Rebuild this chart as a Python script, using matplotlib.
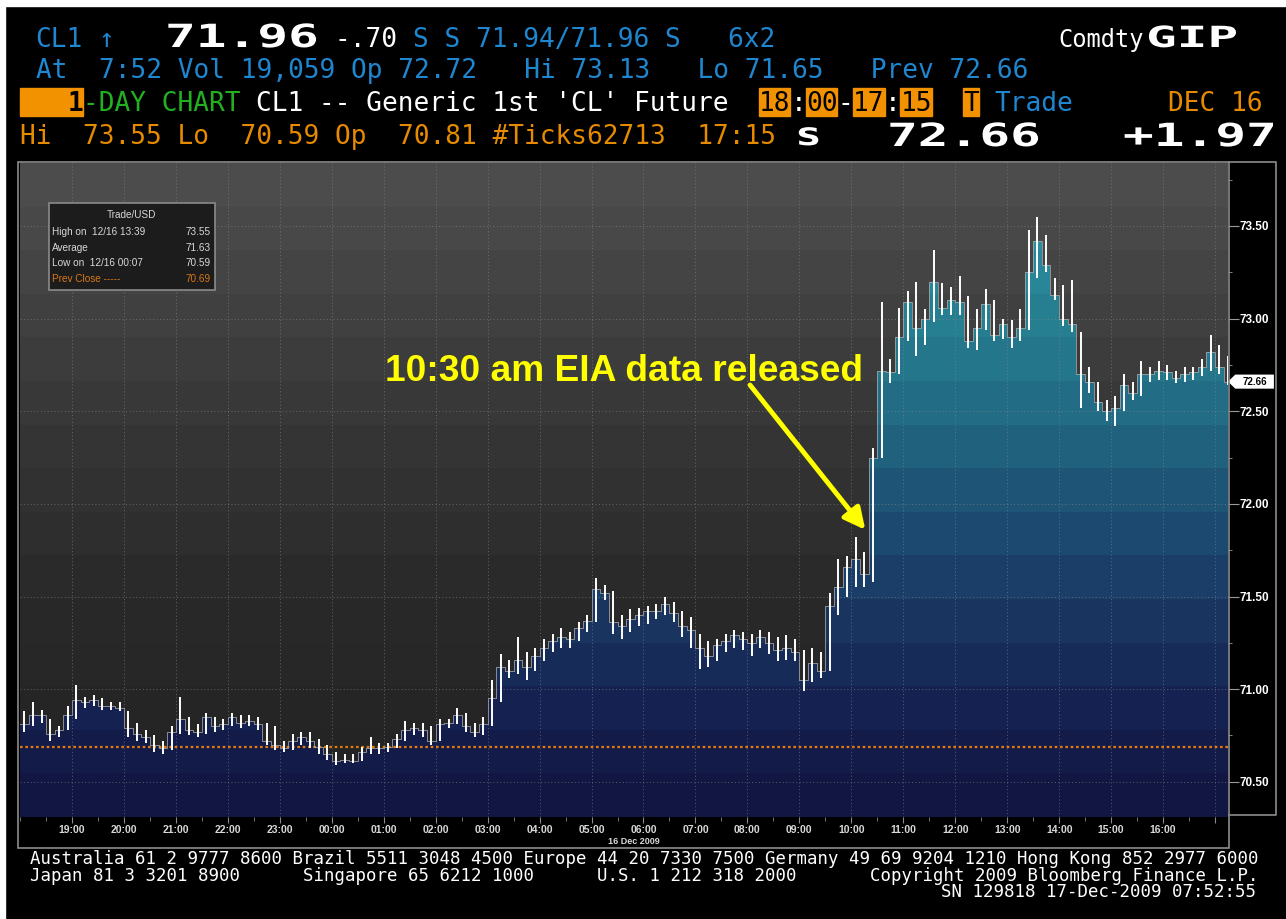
import numpy as np
import matplotlib
matplotlib.use("Agg")
import matplotlib.pyplot as plt
from matplotlib.patches import Rectangle, Polygon
from matplotlib.patheffects import AbstractPathEffect
from matplotlib.transforms import Affine2D
from matplotlib.colors import to_rgb
from matplotlib.ticker import MultipleLocator

# CL1 10-minute bars, session 18:00 (Dec 15) -> 17:15 (Dec 16)
close = [
    70.81, 70.86, 70.86, 70.76, 70.78, 70.86,   # 18:00
    70.94, 70.93, 70.94, 70.91, 70.91, 70.90,   # 19:00
    70.79, 70.76, 70.74, 70.70, 70.68, 70.77,   # 20:00
    70.84, 70.78, 70.77, 70.85, 70.80, 70.81,   # 21:00
    70.85, 70.82, 70.83, 70.81, 70.72, 70.70,   # 22:00
    70.68, 70.72, 70.74, 70.72, 70.69, 70.65,   # 23:00
    70.61, 70.62, 70.61, 70.66, 70.68, 70.68,   # 00:00
    70.69, 70.73, 70.78, 70.79, 70.78, 70.72,   # 01:00
    70.81, 70.82, 70.86, 70.80, 70.77, 70.81,   # 02:00
    70.95, 71.12, 71.10, 71.16, 71.12, 71.18,   # 03:00
    71.22, 71.26, 71.28, 71.27, 71.33, 71.37,   # 04:00
    71.54, 71.52, 71.36, 71.34, 71.38, 71.40,   # 05:00
    71.42, 71.42, 71.46, 71.41, 71.34, 71.32,   # 06:00
    71.22, 71.18, 71.24, 71.26, 71.29, 71.27,   # 07:00
    71.25, 71.28, 71.25, 71.21, 71.22, 71.20,   # 08:00
    71.05, 71.14, 71.10, 71.45, 71.55, 71.66,   # 09:00
    71.70, 71.62, 72.25, 72.72, 72.71, 72.90,   # 10:00
    73.09, 72.95, 73.00, 73.20, 73.06, 73.10,   # 11:00
    73.09, 72.88, 72.95, 73.08, 72.91, 72.97,   # 12:00
    72.90, 72.95, 73.25, 73.42, 73.29, 73.13,   # 13:00
    73.00, 72.97, 72.70, 72.66, 72.55, 72.50,   # 14:00
    72.52, 72.64, 72.60, 72.70, 72.70, 72.72,   # 15:00
    72.71, 72.68, 72.70, 72.71, 72.74, 72.82,   # 16:00
    72.74, 72.66,                               # 17:00
]
high = [
    70.88, 70.93, 70.89, 70.84, 70.80, 70.91,
    71.02, 70.96, 70.97, 70.95, 70.93, 70.93,
    70.88, 70.82, 70.78, 70.75, 70.72, 70.80,
    70.96, 70.85, 70.81, 70.87, 70.85, 70.84,
    70.87, 70.86, 70.86, 70.85, 70.82, 70.80,
    70.72, 70.76, 70.77, 70.77, 70.73, 70.70,
    70.66, 70.65, 70.65, 70.69, 70.74, 70.71,
    70.71, 70.76, 70.83, 70.82, 70.82, 70.80,
    70.84, 70.84, 70.90, 70.87, 70.82, 70.85,
    71.05, 71.19, 71.16, 71.28, 71.20, 71.22,
    71.27, 71.30, 71.33, 71.31, 71.36, 71.40,
    71.60, 71.56, 71.53, 71.40, 71.43, 71.44,
    71.45, 71.46, 71.50, 71.47, 71.42, 71.39,
    71.30, 71.26, 71.27, 71.30, 71.32, 71.31,
    71.30, 71.32, 71.31, 71.28, 71.29, 71.27,
    71.21, 71.22, 71.20, 71.52, 71.70, 71.72,
    71.82, 71.74, 72.30, 73.09, 72.78, 73.06,
    73.15, 73.20, 73.05, 73.37, 73.19, 73.17,
    73.23, 73.12, 73.05, 73.16, 73.10, 73.00,
    72.99, 73.05, 73.48, 73.55, 73.45, 73.22,
    73.18, 73.21, 72.93, 72.74, 72.66, 72.56,
    72.58, 72.70, 72.66, 72.77, 72.74, 72.77,
    72.75, 72.72, 72.74, 72.74, 72.78, 72.91,
    72.86, 72.80,
]
low = [
    70.77, 70.80, 70.82, 70.72, 70.74, 70.78,
    70.84, 70.90, 70.91, 70.89, 70.89, 70.88,
    70.74, 70.72, 70.71, 70.66, 70.65, 70.67,
    70.76, 70.75, 70.74, 70.76, 70.77, 70.78,
    70.80, 70.79, 70.80, 70.78, 70.70, 70.67,
    70.66, 70.67, 70.70, 70.68, 70.65, 70.62,
    70.59, 70.60, 70.60, 70.61, 70.65, 70.65,
    70.66, 70.68, 70.72, 70.75, 70.74, 70.70,
    70.72, 70.79, 70.81, 70.77, 70.74, 70.75,
    70.80, 70.93, 71.06, 71.08, 71.05, 71.10,
    71.15, 71.20, 71.22, 71.22, 71.26, 71.31,
    71.36, 71.48, 71.30, 71.27, 71.31, 71.34,
    71.35, 71.38, 71.40, 71.36, 71.28, 71.22,
    71.11, 71.12, 71.15, 71.20, 71.22, 71.21,
    71.18, 71.22, 71.19, 71.15, 71.16, 71.15,
    70.99, 71.04, 71.06, 71.10, 71.40, 71.50,
    71.55, 71.55, 71.58, 72.25, 72.65, 72.70,
    72.88, 72.80, 72.86, 72.98, 73.02, 73.02,
    73.02, 72.84, 72.83, 72.94, 72.88, 72.89,
    72.84, 72.88, 72.94, 73.22, 73.25, 73.10,
    72.96, 72.93, 72.52, 72.60, 72.50, 72.45,
    72.42, 72.50, 72.56, 72.58, 72.66, 72.67,
    72.67, 72.65, 72.66, 72.67, 72.69, 72.72,
    72.70, 72.64,
]
hour_labels = ["19:00", "20:00", "21:00", "22:00", "23:00", "00:00", "01:00", "02:00",
               "03:00", "04:00", "05:00", "06:00", "07:00", "08:00", "09:00", "10:00",
               "11:00", "12:00", "13:00", "14:00", "15:00", "16:00"]
price_ticks = [70.50, 71.00, 71.50, 72.00, 72.50, 73.00, 73.50]
prev_close = 70.69
last_price = 72.66
session_hours = 23.25
bars_per_hour = 6
legend_rows = [("High on  12/16 13:39", "73.55"), ("Average", "71.63"),
               ("Low on  12/16 00:07", "70.59"), ("Prev Close -----", "70.69")]

plt.rcParams['font.family'] = ['Liberation Sans', 'DejaVu Sans']
MONO = ['DejaVu Sans Mono', 'DejaVu Sans']
BLUE, GREEN, ORANGE, BOX = '#1f86d0', '#22b022', '#e68a00', '#f39200'

W, H = 1286, 919
fig = plt.figure(figsize=(W / 100, H / 100), dpi=100, facecolor='black')


class Widen(AbstractPathEffect):
    # stretch text horizontally around its left edge (display pixels)
    def __init__(self, sx, x0):
        super().__init__()
        self.t = Affine2D().translate(-x0, 0).scale(sx, 1.0).translate(x0, 0)

    def draw_path(self, renderer, gc, tpath, affine, rgbFace=None):
        renderer.draw_path(gc, tpath, affine + self.t, rgbFace)


def banded(anchors, n):
    fr = (np.arange(n) + 0.5) / n
    pos = [a[0] for a in anchors]
    cols = np.array([to_rgb(a[1]) for a in anchors])
    out = np.stack([np.interp(fr, pos, cols[:, k]) for k in range(3)], axis=1)
    return out[:, None, :]


# ---- price chart ----
ax = fig.add_axes([20 / W, (H - 817) / H, 1208 / W, 654 / H])
ymin, ymax = 70.31, 73.84
t = np.arange(len(close)) / bars_per_hour
x_edges = np.append(t, session_hours)
y_edges = np.append(close, close[-1])

bg = banded([(0, '#222222'), (0.35, '#2a2a2a'), (0.6, '#363636'), (0.8, '#424242'), (1, '#4e4e4e')], 15)
ax.imshow(bg, extent=[0, session_hours, ymin, ymax], origin='lower', aspect='auto', zorder=0)

poly = ax.fill_between(x_edges, y_edges, ymin, step='post', facecolor='none', edgecolor='none')
fill = banded([(0, '#10163f'), (0.12, '#141c4c'), (0.3, '#1a3460'), (0.45, '#1d4c72'),
               (0.6, '#216882'), (0.75, '#267e90'), (0.9, '#2a8e9f'), (1, '#2e98aa')], 15)
im = ax.imshow(fill, extent=[0, session_hours, ymin, ymax], origin='lower', aspect='auto', zorder=1)
im.set_clip_path(poly.get_paths()[0], ax.transData)

ax.axhline(prev_close, color='#e07a10', lw=1.6, ls=(0, (1.2, 1.2)), zorder=2.6)
ax.step(x_edges, y_edges, where='post', color='#a8a8a8', lw=0.7, alpha=0.8, zorder=3)
ax.vlines(t + 0.5 / bars_per_hour, low, high, color='white', lw=1.4, zorder=4)

ax.set_xlim(0, session_hours)
ax.set_ylim(ymin, ymax)
ax.set_xticks(np.arange(1, 24))
ax.set_xticklabels(hour_labels + [""])
ax.xaxis.set_minor_locator(MultipleLocator(0.5))
ax.tick_params(axis='x', which='both', direction='out', color='#8a8a8a', labelcolor='#d8d8d8',
               labelsize=7.5, pad=1.5, length=4)
ax.tick_params(axis='x', which='minor', length=3)
ax.yaxis.tick_right()
ax.set_yticks(price_ticks)
ax.set_yticklabels([f"{v:.2f}" for v in price_ticks])
ax.yaxis.set_minor_locator(MultipleLocator(0.25))
ax.tick_params(axis='y', which='both', direction='out', color='#9a9a9a', labelcolor='white',
               labelsize=8.5, pad=0.5, length=8)
ax.tick_params(axis='y', which='minor', length=3)
for lab in ax.get_xticklabels() + ax.get_yticklabels():
    lab.set_fontweight('bold')
ax.grid(True, which='major', color='#8a8a8a', lw=0.7, ls=(0, (1, 2.5)), alpha=0.6)
for s in ax.spines.values():
    s.set_visible(False)

# last price marker on the price scale
ytr = ax.get_yaxis_transform()
ax.add_patch(Polygon([(1.0, last_price), (1.006, last_price + 0.038), (1.038, last_price + 0.038),
                      (1.038, last_price - 0.038), (1.006, last_price - 0.038)],
                     closed=True, transform=ytr, facecolor='white', edgecolor='none', clip_on=False))
ax.text(1.022, last_price, f"{last_price:.2f}", transform=ytr, ha='center', va='center',
        fontsize=7, fontweight='bold', color='black', clip_on=False)

# annotation
ax.text(0.302, 0.6667, "10:30 am EIA data released", transform=ax.transAxes, ha='left',
        va='baseline', fontsize=26.7, fontweight='bold', color='#ffff00')
ax.annotate("", xy=(16.27, 71.86), xytext=(0.6043, 0.6606), textcoords='axes fraction',
            arrowprops=dict(arrowstyle='-|>', color='#ffff00', lw=3.5, mutation_scale=32,
                            shrinkA=0, shrinkB=0))

# ---- overlay in pixel coordinates ----
ov = fig.add_axes([0, 0, 1, 1], zorder=10)
ov.set_xlim(0, W)
ov.set_ylim(H, 0)
ov.axis('off')

ov.add_patch(Rectangle((0, 0), W, 6, color='white'))
ov.add_patch(Rectangle((0, 0), 5, H, color='white'))

# frames
ov.add_patch(Rectangle((18, 162), 1229 - 18, 848 - 162, fill=False, edgecolor='#8c8c8c', lw=1.2))
ov.plot([1229, 1276, 1276, 1229], [162, 162, 815, 815], color='#8c8c8c', lw=1.2)
ov.text(634, 841, "16 Dec 2009", ha='center', va='center', fontsize=6.5, fontweight='bold',
        color='#d8d8d8')

# legend box
ov.add_patch(Rectangle((49, 203), 166, 87, facecolor='#1c1c1c', edgecolor='#8a8a8a', lw=1.2))
ov.text(131, 215, "Trade/USD", ha='center', va='center', fontsize=7.2, color='#d8d8d8')
for i, (name, val) in enumerate(legend_rows):
    c = '#d87818' if i == 3 else '#d8d8d8'
    yy = 232 + i * 15.7
    ov.text(52, yy, name, ha='left', va='center', fontsize=7.2, color=c)
    ov.text(211, yy, val, ha='right', va='center', fontsize=7.2, color=c)

# header
CW = 15.72


def col(c):
    return 20 + c * CW


def term(c, y, s, color, **kw):
    ov.text(col(c), y, s, color=color, family=MONO, fontsize=18.8, va='baseline', ha='left', **kw)


def big(x, y, s, sx, size=23):
    ov.text(x, y, s, color='white', family=MONO, fontweight='bold', fontsize=size,
            va='baseline', ha='left', path_effects=[Widen(sx, x)])


term(1, 47, "CL1", BLUE)
term(5, 47, "\u2191", BLUE)
big(165, 47, "71.96", 1.6)
term(20, 47, "-.70", 'white')
term(25, 47, "S S 71.94/71.96 S   6x2", BLUE)
ov.text(1058, 47, "Comdty", color='white', family=MONO, fontsize=17, va='baseline', ha='left')
big(1146, 47, "GIP", 1.75, size=21)

term(1, 78, "At  7:52 Vol 19,059 Op 72.72   Hi 73.13   Lo 71.65   Prev 72.66", BLUE)

ov.add_patch(Rectangle((20, 88), 4 * CW, 28, color=BOX))
term(3, 111, "1", 'black', fontweight='bold')
term(4, 111, "-DAY CHART", GREEN)
term(15, 111, "CL1 -- Generic 1st 'CL' Future", 'white')
for c0, n in [(47, 2), (50, 2), (53, 2), (56, 2), (60, 1)]:
    ov.add_patch(Rectangle((col(c0), 88), n * CW, 28, color=BOX))
for c0, s, colr in [(47, "18", 'black'), (49, ":", 'white'), (50, "00", 'black'),
                    (52, "-", 'white'), (53, "17", 'black'), (55, ":", 'white'),
                    (56, "15", 'black'), (60, "T", 'black')]:
    term(c0, 111, s, colr)
term(62, 111, "Trade", BLUE)
term(73, 111, "DEC 16", ORANGE)

term(0, 144, "Hi  73.55 Lo  70.59 Op  70.81 #Ticks62713  17:15", ORANGE)
big(795, 145, "s", 1.4)
big(887, 146, "72.66", 1.6)
big(1123, 146, "+1.97", 1.6)

# footer
FOOT = dict(color='white', family=MONO, fontsize=12.52, va='baseline', ha='left')
ov.text(30, 864, "Australia 61 2 9777 8600 Brazil 5511 3048 4500 Europe 44 20 7330 7500 "
        "Germany 49 69 9204 1210 Hong Kong 852 2977 6000", **FOOT)
ov.text(30, 881, "Japan 81 3 3201 8900      Singapore 65 6212 1000      U.S. 1 212 318 2000"
        "       Copyright 2009 Bloomberg Finance L.P.", **FOOT)
ov.text(30 + 87 * 10.47, 897, "SN 129818 17-Dec-2009 07:52:55", **FOOT)

fig.savefig("out.png", dpi=100, facecolor='black')
